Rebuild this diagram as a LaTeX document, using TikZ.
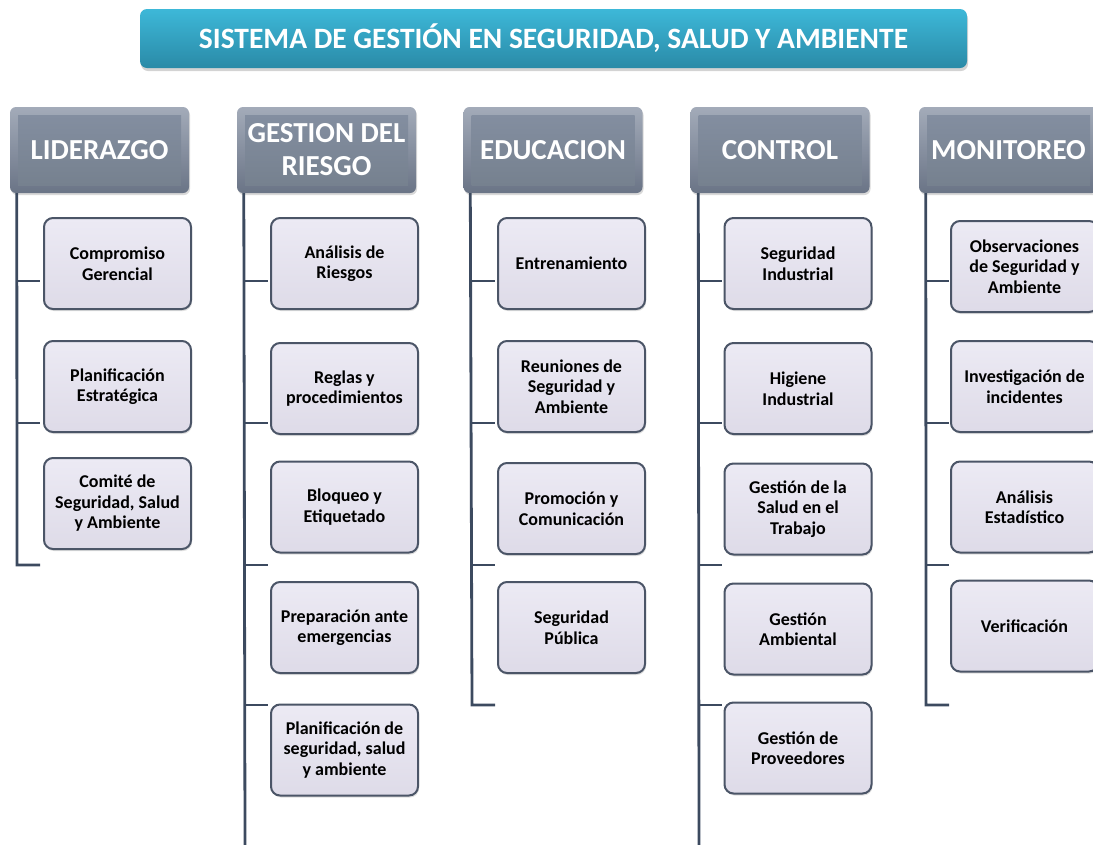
\documentclass[tikz,border=0pt]{standalone}
\usepackage{fontspec}
\setmainfont{Carlito}
\usetikzlibrary{shadows}
\definecolor{titletop}{HTML}{3DB8D8}
\definecolor{titlebot}{HTML}{2A8AA7}
\definecolor{hedge}{HTML}{A3ABB9}
\definecolor{hedgedark}{HTML}{6A7486}
\definecolor{hfill}{HTML}{76818F}
\definecolor{hfilltop}{HTML}{838EA0}
\definecolor{linec}{HTML}{3C4A5F}
\definecolor{boxtop}{HTML}{ECEAF4}
\definecolor{boxbot}{HTML}{DEDBE8}
\definecolor{boxline}{HTML}{4B5567}
\tikzset{
  titlebox/.style={rectangle, rounded corners=7pt, top color=titletop, bottom color=titlebot,
    minimum width=827pt, minimum height=59pt, text=white, inner sep=0pt,
    font=\bfseries\fontsize{29.5}{32}\selectfont,
    drop shadow={opacity=0.35, shadow xshift=1pt, shadow yshift=-3pt}},
  headbox/.style={rectangle, rounded corners=6pt, top color=hedge, bottom color=hedgedark,
    minimum width=179pt, minimum height=86pt, inner sep=0pt,
    drop shadow={opacity=0.3, shadow xshift=1pt, shadow yshift=-2pt}},
  headin/.style={rectangle, top color=hfilltop, bottom color=hfill,
    minimum width=163pt, minimum height=70pt, inner sep=0pt, text=white, align=center,
    font=\bfseries\fontsize{29}{33}\selectfont},
  itembox/.style={rectangle, rounded corners=9pt, draw=boxline, line width=2pt,
    top color=boxtop, bottom color=boxbot, minimum width=147pt, minimum height=91pt,
    inner sep=0pt, align=center, text=black, font=\bfseries\fontsize{18}{20.5}\selectfont,
    drop shadow={opacity=0.25, shadow xshift=1pt, shadow yshift=-2pt}},
  conn/.style={draw=linec, line width=2.8pt}
}
\newcommand{\tickmark}[3]{\coordinate (#1) at (#2,#3); \draw[conn] (#1) -- ++(23,0);}
\begin{document}
\begin{tikzpicture}[x=1pt,y=-1pt]
\useasboundingbox (0,0) rectangle (1093,844);
\clip (0,0) rectangle (1093,844);

% title
\node[titlebox] (title) at (553.5,38.5) {SISTEMA DE GESTIÓN EN SEGURIDAD, SALUD Y AMBIENTE};

% headers
\node[headbox] (h1) at (99.5,150) {};
\node[headin] (h1t) at (h1.center) {LIDERAZGO};
\node[headbox] (h2) at (326.5,150) {};
\node[headin] (h2t) at (h2.center) {GESTION DEL\\RIESGO};
\node[headbox] (h3) at (553,150) {};
\node[headin] (h3t) at (h3.center) {EDUCACION};
\node[headbox] (h4) at (780,150) {};
\node[headin] (h4t) at (h4.center) {CONTROL};
\node[headbox] (h5) at (1008.5,150) {};
\node[headin] (h5t) at (h5.center) {MONITOREO};

% vertical lines
\coordinate (l1b) at (17,565);
\coordinate (l2b) at (245,846);
\coordinate (l3b) at (472,705);
\coordinate (l4b) at (699,846);
\coordinate (l5b) at (926,705);
\draw[conn] ([xshift=7pt]h1.south west) -- (l1b) -- ++(23,0);
\draw[conn] ([xshift=7pt]h2.south west) -- (l2b);
\draw[conn] ([xshift=7pt]h3.south west) -- (l3b) -- ++(23,0);
\draw[conn] ([xshift=8pt]h4.south west) -- (l4b);
\draw[conn] ([xshift=7pt]h5.south west) -- (l5b) -- ++(23,0);

% ticks
\tickmark{t1a}{17}{281}
\tickmark{t1b}{17}{423}
\tickmark{t2a}{245}{281}
\tickmark{t2b}{245}{423}
\tickmark{t2c}{245}{565}
\tickmark{t2d}{245}{705}
\tickmark{t3a}{472}{281}
\tickmark{t3b}{472}{423}
\tickmark{t3c}{472}{565}
\tickmark{t4a}{699}{281}
\tickmark{t4b}{699}{423}
\tickmark{t4c}{699}{565}
\tickmark{t4d}{699}{705}
\tickmark{t5a}{926}{281}
\tickmark{t5b}{926}{423}
\tickmark{t5c}{926}{565}

% column 1
\node[itembox] (b11) at (117.5,263.5) {Compromiso\\Gerencial};
\node[itembox] (b12) at (117.5,386.5) {Planificación\\Estratégica};
\node[itembox] (b13) at (117.5,503.5) {Comité de\\Seguridad, Salud\\y Ambiente};

% column 2
\node[itembox] (b21) at (344.5,263.5) {Análisis de\\Riesgos};
\node[itembox] (b22) at (344.5,388.5) {Reglas y\\procedimientos};
\node[itembox] (b23) at (344.5,507) {Bloqueo y\\Etiquetado};
\node[itembox] (b24) at (344.5,627.5) {Preparación ante\\emergencias};
\node[itembox] (b25) at (344.5,750) {Planificación de\\seguridad, salud\\y ambiente};

% column 3
\node[itembox] (b31) at (571.5,263.5) {Entrenamiento};
\node[itembox] (b32) at (571.5,386.5) {Reuniones de\\Seguridad y\\Ambiente};
\node[itembox] (b33) at (571.5,508.5) {Promoción y\\Comunicación};
\node[itembox] (b34) at (571.5,627.5) {Seguridad\\Pública};

% column 4
\node[itembox] (b41) at (798,263.5) {Seguridad\\Industrial};
\node[itembox] (b42) at (798,388.5) {Higiene\\Industrial};
\node[itembox] (b43) at (798,509) {Gestión de la\\Salud en el\\Trabajo};
\node[itembox] (b44) at (798,629) {Gestión\\Ambiental};
\node[itembox] (b45) at (798,748) {Gestión de\\Proveedores};

% column 5
\node[itembox] (b51) at (1024.5,266.5) {Observaciones\\de Seguridad y\\Ambiente};
\node[itembox] (b52) at (1024.5,386.5) {Investigación de\\incidentes};
\node[itembox] (b53) at (1024.5,507) {Análisis\\Estadístico};
\node[itembox] (b54) at (1024.5,626) {Verificación};
\end{tikzpicture}
\end{document}
